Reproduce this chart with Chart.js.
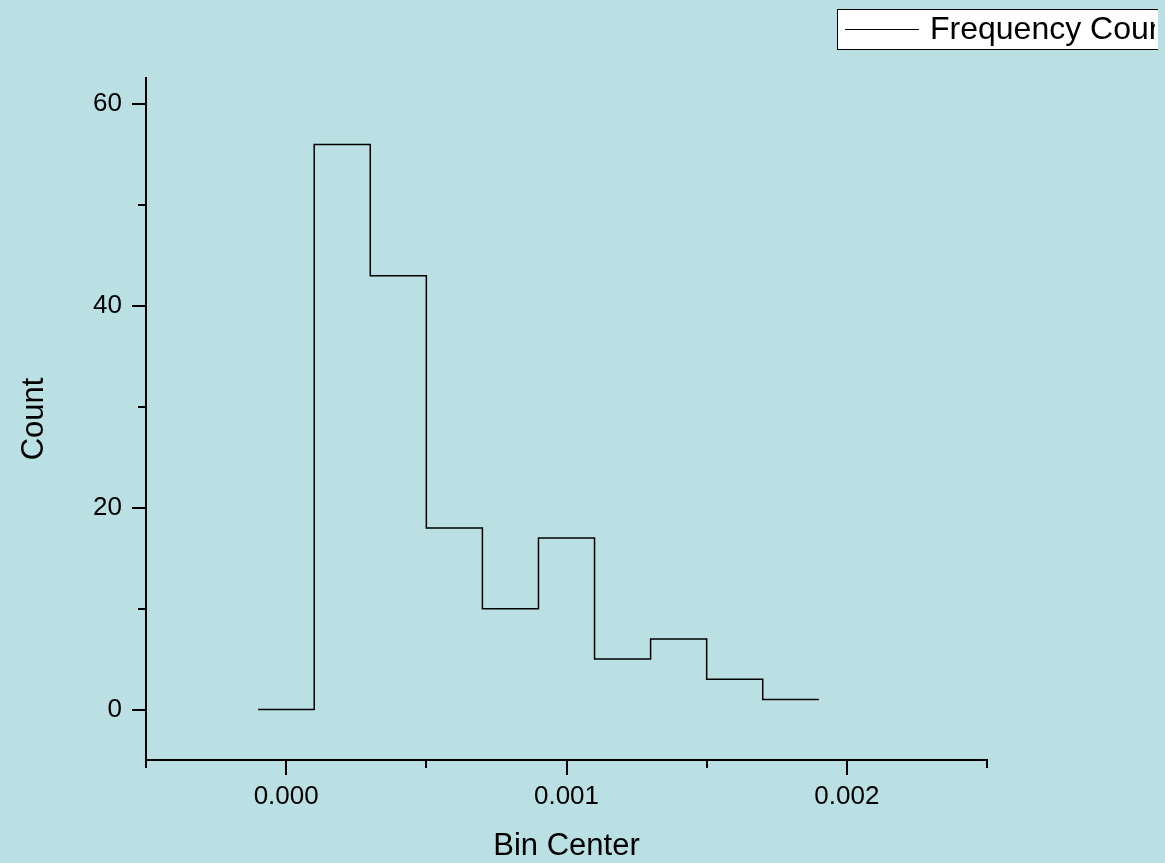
<!DOCTYPE html>
<html>
<head>
<meta charset="utf-8">
<title>Frequency Count</title>
<script src="https://cdn.jsdelivr.net/npm/chart.js@4.4.1/dist/chart.umd.min.js"></script>
<style>
    html, body { margin: 0; padding: 0; background: #BAE0E3; }
    #wrap { width: 1165px; height: 863px; position: relative; }
</style>
</head>
<body>
<div id="wrap"><canvas id="histChart"></canvas></div>
<script>
// Histogram data
const binCenters = [0.0000, 0.0002, 0.0004, 0.0006, 0.0008, 0.0010, 0.0012, 0.0014, 0.0016, 0.0018];
const counts = [0, 56, 43, 18, 10, 17, 5, 7, 3, 1];
const binWidth = 0.0002;
const seriesLabel = 'Frequency Count';

// Axis ticks
const xMajorTicks = [0, 0.001, 0.002];
const xMinorTicks = [-0.0005, 0.0005, 0.0015, 0.0025];
const yMajorTicks = [0, 20, 40, 60];
const yMinorTicks = [10, 30, 50];

const FONT = "'Liberation Sans', Arial, sans-serif";

// Step line goes through the left edge of each bin, plus the right edge of the last one
const stepPoints = binCenters.map((c, i) => ({ x: c - binWidth / 2, y: counts[i] }));
stepPoints.push({ x: binCenters[binCenters.length - 1] + binWidth / 2, y: counts[counts.length - 1] });

// Background fill, outward ticks and the clipped legend box
const decorPlugin = {
    id: 'decor',
    beforeDraw(chart) {
        const ctx = chart.ctx;
        ctx.save();
        ctx.fillStyle = '#BAE0E3';
        ctx.fillRect(0, 0, chart.width, chart.height);
        ctx.restore();
    },
    afterDraw(chart) {
        const ctx = chart.ctx;
        const xs = chart.scales.x, ys = chart.scales.y;
        const area = chart.chartArea;
        ctx.save();
        ctx.strokeStyle = '#000';
        ctx.lineWidth = 2;
        // x ticks (down from axis)
        const xt = (v, len) => {
            const px = Math.round(xs.getPixelForValue(v));
            ctx.beginPath();
            ctx.moveTo(px, area.bottom);
            ctx.lineTo(px, area.bottom + len);
            ctx.stroke();
        };
        xMajorTicks.forEach(v => xt(v, 15));
        xMinorTicks.forEach(v => xt(v, 8));
        // y ticks (left of axis)
        const yt = (v, len) => {
            const py = Math.round(ys.getPixelForValue(v));
            ctx.beginPath();
            ctx.moveTo(area.left, py);
            ctx.lineTo(area.left - len, py);
            ctx.stroke();
        };
        yMajorTicks.forEach(v => yt(v, 14));
        yMinorTicks.forEach(v => yt(v, 8));

        // legend, cut off at the right like the original
        ctx.beginPath();
        ctx.rect(0, 0, 1158, chart.height);
        ctx.clip();
        ctx.lineWidth = 1;
        ctx.fillStyle = '#fff';
        ctx.fillRect(837.5, 9.5, 400, 40);
        ctx.strokeRect(837.5, 9.5, 400, 40);
        ctx.beginPath();
        ctx.moveTo(845, 29.5);
        ctx.lineTo(919, 29.5);
        ctx.stroke();
        ctx.beginPath();
        ctx.rect(0, 0, 1155, chart.height);
        ctx.clip();
        ctx.fillStyle = '#000';
        ctx.font = '32px ' + FONT;
        ctx.textBaseline = 'alphabetic';
        ctx.textAlign = 'left';
        ctx.fillText(seriesLabel, 930, 39);
        ctx.restore();
    }
};

function initChart() {
    const ctx = document.getElementById('histChart').getContext('2d');
    Chart.defaults.color = '#000';
    Chart.defaults.font.family = FONT;

    new Chart(ctx, {
        type: 'line',
        data: {
            datasets: [{
                label: seriesLabel,
                data: stepPoints,
                borderColor: '#000',
                borderWidth: 1.5,
                pointRadius: 0,
                stepped: 'before',
                fill: false
            }]
        },
        options: {
            responsive: true,
            maintainAspectRatio: false,
            animation: false,
            layout: { padding: { top: 78, right: 178, left: 0, bottom: 0 } },
            plugins: {
                legend: { display: false },
                tooltip: { enabled: false }
            },
            scales: {
                x: {
                    type: 'linear',
                    min: -0.0005,
                    max: 0.0025,
                    afterBuildTicks: axis => { axis.ticks = xMajorTicks.map(v => ({ value: v })); },
                    afterFit: axis => { axis.height = 103; },
                    grid: { display: false, drawTicks: false },
                    border: { display: true, color: '#000', width: 2 },
                    ticks: {
                        padding: 21,
                        maxRotation: 0,
                        font: { size: 26 },
                        callback: v => v.toFixed(3)
                    },
                    title: {
                        display: true,
                        text: 'Bin Center',
                        font: { size: 31, lineHeight: 1 },
                        padding: { top: 0, bottom: 1.5 }
                    }
                },
                y: {
                    min: -5,
                    max: 62.6,
                    afterBuildTicks: axis => { axis.ticks = yMajorTicks.map(v => ({ value: v })); },
                    afterFit: axis => { axis.width = 146; },
                    grid: { display: false, drawTicks: false },
                    border: { display: true, color: '#000', width: 2 },
                    ticks: {
                        padding: 24,
                        font: { size: 26 },
                        callback: v => String(v)
                    },
                    title: {
                        display: true,
                        text: 'Count',
                        font: { size: 31, lineHeight: 1 },
                        padding: { top: 18.5, bottom: 0 }
                    }
                }
            }
        },
        plugins: [decorPlugin]
    });
}

window.addEventListener('DOMContentLoaded', () => {
    initChart();
});
</script>
</body>
</html>
